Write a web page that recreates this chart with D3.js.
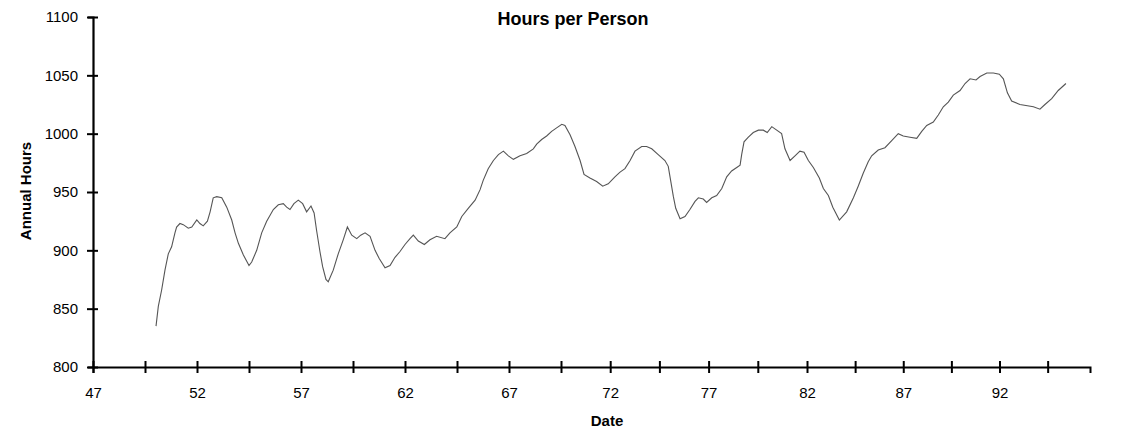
<!DOCTYPE html>
<html>
<head>
<meta charset="utf-8">
<script src="https://cdn.jsdelivr.net/npm/d3@7"></script>
<style>
  html, body { margin: 0; padding: 0; background: #fff; }
  svg { display: block; }
  text { font-family: "Liberation Sans", Arial, sans-serif; fill: #000; }
</style>
</head>
<body>
<svg id="chart" width="1141" height="431"></svg>
<script>
// ---- data ----
const title = "Hours per Person";
const xTitle = "Date";
const yTitle = "Annual Hours";

const years = [
  50.03, 50.14, 50.30, 50.46, 50.62, 50.78, 50.94, 51.02, 51.18, 51.34, 51.58, 51.75, 51.99,
  52.14, 52.30, 52.50, 52.63, 52.78, 52.95, 53.19, 53.43, 53.67, 53.83, 53.99, 54.23, 54.50,
  54.63, 54.87, 55.11, 55.35, 55.67, 55.91, 56.15, 56.31, 56.47, 56.66, 56.87, 57.08, 57.27,
  57.48, 57.63, 57.75, 57.91, 58.04, 58.20, 58.31, 58.55, 58.79, 59.03, 59.23, 59.44, 59.68,
  59.87, 60.08, 60.32, 60.56, 60.76, 61.04, 61.28, 61.52, 61.76, 62.00, 62.24, 62.40, 62.64,
  62.93, 63.20, 63.52, 63.92, 64.16, 64.49, 64.73, 65.04, 65.37, 65.61, 65.76, 66.00, 66.25,
  66.49, 66.73, 66.97, 67.21, 67.53, 67.85, 68.17, 68.33, 68.57, 68.81, 69.05, 69.29, 69.54,
  69.70, 69.96, 70.21, 70.47, 70.67, 70.97, 71.31, 71.62, 71.90, 72.24, 72.50, 72.75, 73.01,
  73.26, 73.60, 73.85, 74.11, 74.44, 74.78, 74.95, 75.07, 75.21, 75.33, 75.55, 75.80, 76.05,
  76.31, 76.48, 76.73, 76.90, 77.16, 77.41, 77.67, 77.92, 78.17, 78.43, 78.60, 78.68, 78.80,
  79.02, 79.27, 79.53, 79.78, 79.98, 80.21, 80.71, 80.88, 81.14, 81.39, 81.64, 81.85, 82.07,
  82.33, 82.64, 82.85, 83.11, 83.34, 83.68, 84.06, 84.41, 84.66, 84.92, 85.18, 85.36, 85.70,
  86.05, 86.40, 86.74, 87.00, 87.35, 87.70, 87.96, 88.22, 88.56, 88.82, 89.08, 89.34, 89.60,
  89.95, 90.21, 90.47, 90.78, 90.99, 91.34, 91.68, 91.99, 92.20, 92.41, 92.63, 93.06, 93.76,
  94.10, 94.36, 94.71, 95.05, 95.45
];
const hours = [
  835, 852, 866, 883, 897, 903, 915, 920, 923, 922, 919, 920, 926,
  923, 921, 925, 933, 945, 946, 945, 937, 926, 915, 906, 896, 887,
  890, 900, 915, 925, 935, 939, 940, 937, 935, 940, 943, 940, 933,
  938, 932, 917, 899, 886, 875, 873, 883, 897, 909, 920, 913, 910,
  913, 915, 912, 900, 893, 885, 887, 894, 899, 905, 910, 913, 908,
  905, 909, 912, 910, 915, 920, 929, 936, 943, 952, 960, 970, 977,
  982, 985, 981, 978, 981, 983, 987, 991, 995, 998, 1002, 1005, 1008,
  1007, 999, 989, 977, 965, 962, 959, 955, 957, 963, 967, 970, 977,
  985, 989, 989, 987, 982, 977, 972, 960, 946, 936, 927, 929, 935,
  942, 945, 944, 941, 945, 947, 953, 963, 968, 971, 973, 982, 993,
  997, 1001, 1003, 1003, 1001, 1006, 1000, 987, 977, 981, 985, 984, 977,
  971, 962, 953, 947, 937, 926, 933, 945, 955, 966, 976, 981, 986,
  988, 994, 1000, 998, 997, 996, 1002, 1007, 1010, 1016, 1023, 1027, 1033,
  1037, 1043, 1047, 1046, 1049, 1052, 1052, 1051, 1047, 1035, 1028, 1025, 1023,
  1021, 1025, 1030, 1037, 1043
];

const yTicks = [800, 850, 900, 950, 1000, 1050, 1100];
const xTickValues = [47, 49.5, 52, 54.5, 57, 59.5, 62, 64.5, 67, 69.5, 72, 74.5, 77, 79.5, 82, 84.5, 87, 89.5, 92, 94.5];
const xTickLabels = ["47", "", "52", "", "57", "", "62", "", "67", "", "72", "", "77", "", "82", "", "87", "", "92", ""];

// ---- chart ----
const svg = d3.select("#chart");

// the scanned axis is slightly uneven, so the year scale follows its tick marks
const x = d3.scaleLinear()
  .domain([47, 69.5, 82, 96.7])
  .range([93, 561, 807, 1090]);
const y = d3.scaleLinear().domain([800, 1100]).range([367, 17]);

const data = years.map((yr, i) => ({ year: yr, value: hours[i] }));

// y axis
const gy = svg.append("g")
  .attr("transform", `translate(${x(47)},0)`)
  .call(d3.axisLeft(y).tickValues(yTicks).tickSize(5).tickPadding(8).tickFormat(d3.format("d")));
gy.select(".domain").attr("stroke", "#000").attr("stroke-width", 2.2);
gy.selectAll(".tick line").attr("x1", 5).attr("x2", -6).attr("stroke", "#000").attr("stroke-width", 2);
gy.selectAll(".tick text").attr("font-size", 15).attr("font-family", "Liberation Sans, Arial, sans-serif").attr("dx", -2);

// x axis
const gx = svg.append("g")
  .attr("transform", `translate(0,${y(800)})`)
  .call(d3.axisBottom(x).tickValues(xTickValues).tickSize(6).tickPadding(14)
    .tickFormat((d, i) => xTickLabels[i]));
gx.select(".domain").attr("stroke", "#000").attr("stroke-width", 2);
gx.selectAll(".tick line").attr("y1", -6).attr("y2", 6).attr("stroke", "#000").attr("stroke-width", 2);
gx.selectAll(".tick text").attr("font-size", 15).attr("font-family", "Liberation Sans, Arial, sans-serif");

// line
svg.append("path")
  .datum(data)
  .attr("fill", "none")
  .attr("stroke", "#555")
  .attr("stroke-width", 1.1)
  .attr("d", d3.line().x(d => x(d.year)).y(d => y(d.value)));

// titles
svg.append("text")
  .attr("x", 573).attr("y", 25)
  .attr("text-anchor", "middle")
  .attr("font-size", 18).attr("font-weight", "bold")
  .text(title);

svg.append("text")
  .attr("x", 607).attr("y", 426)
  .attr("text-anchor", "middle")
  .attr("font-size", 15).attr("font-weight", "bold")
  .text(xTitle);

svg.append("text")
  .attr("transform", "translate(31,191) rotate(-90)")
  .attr("text-anchor", "middle")
  .attr("font-size", 15).attr("font-weight", "bold")
  .text(yTitle);
</script>
</body>
</html>
